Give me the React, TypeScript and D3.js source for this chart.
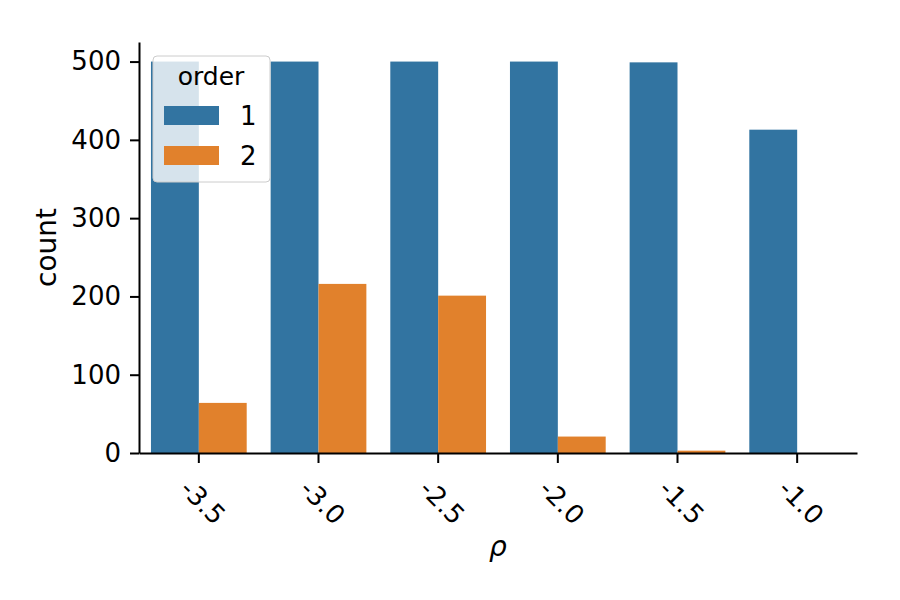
import React, { useEffect, useRef } from 'react';
import * as d3 from 'd3';

const categories = ['-3.5', '-3.0', '-2.5', '-2.0', '-1.5', '-1.0'];
const orders = ['1', '2'];
const order1Counts = [500, 500, 500, 500, 499, 413];
const order2Counts = [64, 216, 201, 21, 3, 0];
const yTicks = [0, 100, 200, 300, 400, 500];
const colors = ['#3274a1', '#e1812c'];

export default function App() {
  const svgRef = useRef<SVGSVGElement | null>(null);

  useEffect(() => {
    const width = 900;
    const height = 600;
    const margin = { top: 42, right: 43, bottom: 147, left: 139 };
    const innerW = width - margin.left - margin.right;
    const innerH = height - margin.top - margin.bottom;
    const font = 'DejaVu Sans, sans-serif';
    const tickFont = 26;
    const labelFont = 28;

    d3.select(svgRef.current).selectAll('*').remove();
    const svg = d3.select(svgRef.current)
      .attr('width', width)
      .attr('height', height);

    svg.append('rect').attr('width', width).attr('height', height).attr('fill', '#ffffff');

    const g = svg.append('g')
      .attr('transform', `translate(${margin.left},${margin.top})`);

    // Scales
    const xScale = d3.scaleBand<string>()
      .domain(categories)
      .range([0, innerW]);

    const yScale = d3.scaleLinear()
      .domain([0, 525])
      .range([innerH, 0]);

    const sub = d3.scaleBand<string>()
      .domain(orders)
      .range([xScale.bandwidth() * 0.1, xScale.bandwidth() * 0.9]);

    const series = [order1Counts, order2Counts];

    // Bars
    series.forEach((vals, si) => {
      g.selectAll(`.bar-${si}`)
        .data(categories.map((c, i) => ({ c, v: vals[i] })))
        .enter()
        .append('rect')
        .attr('class', `bar-${si}`)
        .attr('x', d => (xScale(d.c) as number) + (sub(orders[si]) as number))
        .attr('y', d => yScale(d.v))
        .attr('width', sub.bandwidth())
        .attr('height', d => innerH - yScale(d.v))
        .attr('fill', colors[si]);
    });

    // Axes
    const xAxisG = g.append('g')
      .attr('transform', `translate(0,${innerH})`)
      .call(d3.axisBottom(xScale).tickSize(10).tickSizeOuter(0).tickPadding(0));
    xAxisG.select('.domain').attr('stroke', '#000').attr('stroke-width', 2);
    xAxisG.selectAll('.tick line').attr('stroke', '#000').attr('stroke-width', 2);
    xAxisG.selectAll('.tick text')
      .attr('font-family', font)
      .attr('font-size', tickFont)
      .attr('fill', '#000')
      .attr('y', 0)
      .attr('dy', null)
      .attr('text-anchor', 'middle')
      .attr('dominant-baseline', 'central')
      .attr('transform', 'translate(4,49) rotate(45)');

    const yAxisG = g.append('g')
      .call(d3.axisLeft(yScale).tickValues(yTicks).tickSize(9).tickSizeOuter(0).tickPadding(9));
    yAxisG.select('.domain').attr('stroke', '#000').attr('stroke-width', 2);
    yAxisG.selectAll('.tick line').attr('stroke', '#000').attr('stroke-width', 2);
    yAxisG.selectAll('.tick text')
      .attr('font-family', font)
      .attr('font-size', tickFont)
      .attr('fill', '#000');

    // Axis labels
    svg.append('text')
      .attr('transform', `translate(56,${margin.top + innerH / 2}) rotate(-90)`)
      .attr('text-anchor', 'middle')
      .attr('font-family', font)
      .attr('font-size', labelFont)
      .attr('fill', '#000')
      .text('count');

    svg.append('text')
      .attr('x', margin.left + innerW / 2)
      .attr('y', 556)
      .attr('text-anchor', 'middle')
      .attr('font-family', font)
      .attr('font-style', 'italic')
      .attr('font-size', labelFont)
      .attr('fill', '#000')
      .text('ρ');

    // Legend
    const lg = svg.append('g').attr('transform', 'translate(153,56)');
    lg.append('rect')
      .attr('width', 117)
      .attr('height', 126)
      .attr('rx', 4)
      .attr('fill', '#ffffff')
      .attr('fill-opacity', 0.8)
      .attr('stroke', '#cccccc')
      .attr('stroke-width', 1);
    lg.append('text')
      .attr('x', 58)
      .attr('y', 29)
      .attr('text-anchor', 'middle')
      .attr('font-family', font)
      .attr('font-size', 25)
      .attr('fill', '#000')
      .text('order');
    orders.forEach((o, i) => {
      lg.append('rect')
        .attr('x', 11)
        .attr('y', 50 + i * 40)
        .attr('width', 55)
        .attr('height', 19)
        .attr('fill', colors[i]);
      lg.append('text')
        .attr('x', 87)
        .attr('y', 69 + i * 40)
        .attr('font-family', font)
        .attr('font-size', tickFont)
        .attr('fill', '#000')
        .text(o);
    });
  }, []);

  return (
    <svg ref={svgRef} style={{ position: 'absolute', left: 0, top: 0, display: 'block' }}></svg>
  );
}
